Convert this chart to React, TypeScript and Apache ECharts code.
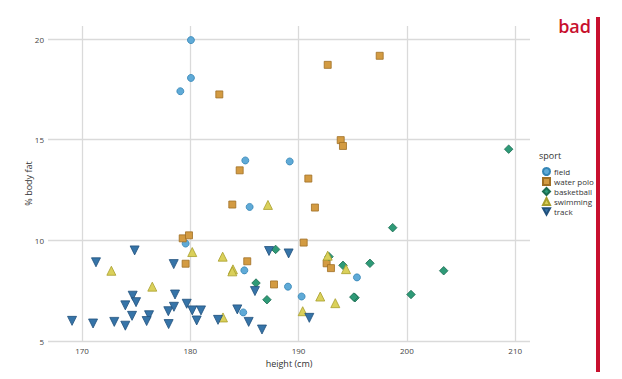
import React, { useEffect, useRef } from "react";
import * as echarts from "echarts";

const sports = ["field", "water polo", "basketball", "swimming", "track"];

const field = [
  [180.06, 19.95], [180.06, 18.07], [179.08, 17.41], [185.08, 13.97], [189.18, 13.92],
  [185.48, 11.66], [179.57, 9.84], [184.99, 8.51], [189.02, 7.7], [190.28, 7.21],
  [184.89, 6.42], [195.39, 8.16],
];

const waterPolo = [
  [182.68, 17.25], [184.56, 13.48], [190.9, 13.07], [197.49, 19.17], [192.69, 18.72],
  [193.89, 14.98], [194.1, 14.69], [183.88, 11.78], [191.51, 11.63], [179.3, 10.1],
  [179.88, 10.25], [190.47, 9.89], [179.57, 8.84], [185.26, 8.96], [187.73, 7.81],
  [192.59, 8.86], [192.99, 8.62],
];

const basketball = [
  [209.4, 14.53], [198.69, 10.63], [187.88, 9.55], [186.07, 7.88], [187.08, 7.05],
  [192.81, 9.19], [194.1, 8.76], [196.59, 8.86], [203.4, 8.49], [200.38, 7.31],
  [195.21, 7.15], [195.1, 7.18],
];

const swimming = [
  [187.17, 11.76], [180.18, 9.42], [182.99, 9.19], [172.71, 8.49], [183.94, 8.56],
  [183.88, 8.46], [176.49, 7.7], [190.38, 6.48], [183.02, 6.17], [192.69, 9.24],
  [194.38, 8.57], [192.0, 7.21], [193.39, 6.88],
];

const track = [
  [174.86, 9.5], [187.27, 9.47], [189.08, 9.35], [171.29, 8.91], [178.47, 8.82],
  [174.68, 7.25], [178.59, 7.31], [185.97, 7.48], [174.99, 6.93], [174.0, 6.77],
  [179.67, 6.85], [177.97, 6.48], [178.49, 6.7], [180.18, 6.52], [180.99, 6.52],
  [184.34, 6.57], [174.62, 6.25], [176.19, 6.28], [182.56, 6.05], [169.08, 6.0],
  [171.02, 5.87], [172.98, 5.95], [174.0, 5.76], [175.97, 5.99], [178.0, 5.84],
  [180.59, 6.02], [185.39, 5.95], [186.62, 5.57], [190.99, 6.15],
];

const seriesData = [field, waterPolo, basketball, swimming, track];
const fills = ["#5FAAD7", "#D39B42", "#2E9A77", "#DAD05A", "#3674A8"];
const strokes = ["#3384B5", "#A06F24", "#1B6B50", "#A89E2C", "#21507C"];
const symbols = [
  "circle",
  "rect",
  "diamond",
  "triangle",
  "path://M0,0 L10,0 L5,9 Z",
];
const sizes = [7, 7, 8.5, 9, 9];

const FONT = "'Open Sans', sans-serif";

export default function App() {
  const ref = useRef<HTMLDivElement>(null);
  useEffect(() => {
    const chart = echarts.init(ref.current!, null, { renderer: "svg" });
    chart.setOption({
      animation: false,
      backgroundColor: "#ffffff",
      textStyle: { fontFamily: FONT },
      grid: { left: 48, right: 92, top: 26, bottom: 38, containLabel: false },
      xAxis: {
        type: "value",
        min: 166.86,
        max: 211.37,
        splitNumber: 5,
        name: "height (cm)",
        nameLocation: "middle",
        nameGap: 14,
        nameTextStyle: { fontSize: 9, color: "#333", fontFamily: FONT },
        axisLine: { show: false },
        axisTick: { show: false },
        axisLabel: {
          fontSize: 8,
          color: "#444",
          margin: 5,
          showMinLabel: false,
          showMaxLabel: false,
          fontFamily: FONT,
        },
        splitLine: {
          show: true,
          showMinLine: false,
          showMaxLine: false,
          lineStyle: { color: "#dadada", width: 1.3 },
        },
      },
      yAxis: {
        type: "value",
        min: 5,
        max: 20.65,
        interval: 5,
        name: "% body fat",
        nameLocation: "middle",
        nameGap: 15,
        nameMoveOverlap: false,
        nameTextStyle: { fontSize: 9, color: "#333", fontFamily: FONT },
        axisLine: { show: false },
        axisTick: { show: false },
        axisLabel: {
          fontSize: 8,
          color: "#444",
          margin: 4,
          showMaxLabel: false,
          fontFamily: FONT,
        },
        splitLine: {
          show: true,
          showMaxLine: false,
          lineStyle: { color: "#dadada", width: 1.3 },
        },
      },
      legend: {
        orient: "vertical",
        left: 542,
        top: 167,
        padding: 0,
        itemWidth: 7,
        itemHeight: 7,
        itemGap: 1,
        textStyle: { fontSize: 8, color: "#333", fontFamily: FONT, lineHeight: 9, padding: [0, 0, 0, -1] },
        data: sports.map((s, i) => ({ name: s, icon: symbols[i] })),
      },
      graphic: [
        {
          type: "text",
          left: 539,
          top: 151,
          style: { text: "sport", fontSize: 9, fill: "#333", fontFamily: FONT },
        },
        {
          type: "text",
          x: 591,
          y: 26,
          style: {
            text: "bad",
            fontSize: 18,
            fontWeight: 600,
            fill: "#C8102E",
            fontFamily: FONT,
            align: "right",
            verticalAlign: "middle",
          },
        },
        {
          type: "rect",
          shape: { x: 596, y: 17, width: 4, height: 355 },
          style: { fill: "#C8102E" },
        },
      ],
      series: sports.map((s, i) => ({
        name: s,
        type: "scatter",
        data: seriesData[i],
        symbol: symbols[i],
        symbolSize: sizes[i],
        itemStyle: {
          color: fills[i],
          borderColor: strokes[i],
          borderWidth: 0.8,
          opacity: 1,
        },
      })),
    });
    return () => chart.dispose();
  }, []);
  return (
    <div
      ref={ref}
      style={{ position: "fixed", left: 0, top: 0, width: 622, height: 379 }}
    />
  );
}
